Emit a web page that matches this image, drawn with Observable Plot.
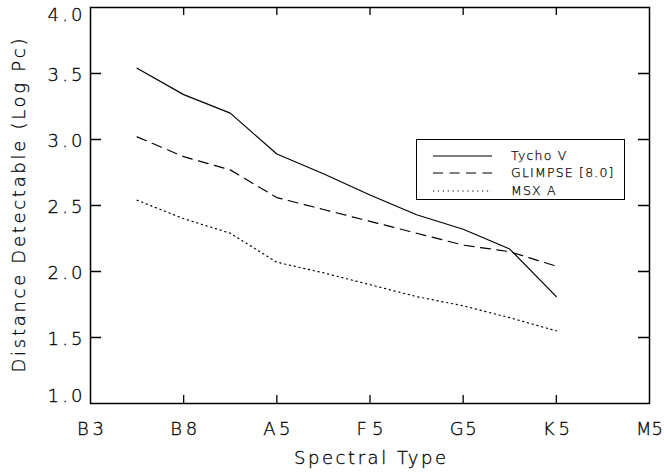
<!DOCTYPE html>
<html>
<head>
<meta charset="utf-8">
<script src="https://cdn.jsdelivr.net/npm/d3@7"></script>
<script src="https://cdn.jsdelivr.net/npm/@observablehq/plot@0.6"></script>
<style>
  html, body { margin: 0; padding: 0; background: #fff; }
  #wrap { position: relative; width: 664px; height: 474px; }
  #wrap svg text { stroke: #000; stroke-width: 0.3px; }
  #legend { position: absolute; left: 416px; top: 139px; width: 209px; height: 61px;
    border: 1px solid #000; background: #fff; box-sizing: border-box;
    font-family: "DejaVu Sans", sans-serif; font-weight: 200; font-size: 12.5px; letter-spacing: 1.2px; color: #000;
    -webkit-text-stroke: 0.25px #000; }
  .row { position: absolute; left: 16px; height: 14px; }
  .row svg { position: absolute; left: 0; top: 0; }
  .row span { position: absolute; left: 78px; top: -1px; white-space: nowrap; line-height: 16px; }
</style>
</head>
<body>
<div id="wrap"></div>
<script>
// ---- data ----
const spectralLabels = ["B3", "B8", "A5", "F5", "G5", "K5", "M5"];
const xTicks = [0, 1, 2, 3, 4, 5, 6];
const yTicks = [1.0, 1.5, 2.0, 2.5, 3.0, 3.5, 4.0];
const xPos = [0.5, 1, 1.5, 2, 2.5, 3, 3.5, 4, 4.5, 5];
const tychoV = [3.54, 3.34, 3.20, 2.89, 2.74, 2.58, 2.43, 2.32, 2.17, 1.81];
const glimpse = [3.02, 2.87, 2.77, 2.56, 2.47, 2.38, 2.29, 2.20, 2.15, 2.04];
const msxA = [2.54, 2.40, 2.29, 2.07, 1.99, 1.90, 1.81, 1.74, 1.65, 1.55];
const seriesNames = ["Tycho V", "GLIMPSE [8.0]", "MSX A"];
const xTitle = "Spectral Type";
const yTitle = "Distance Detectable (Log Pc)";
const dashes = ["none", "10,6.5", "1.2,3.7"];

const seriesValues = [tychoV, glimpse, msxA];
const rows = [];
seriesNames.forEach((name, s) => xPos.forEach((x, i) => rows.push({series: name, x, y: seriesValues[s][i]})));

const W = 664, H = 474, mL = 90, mR = 15, mT = 7, mB = 71;
const innerW = W - mL - mR, innerH = H - mT - mB;
const font = "DejaVu Sans, sans-serif";
const fmt = d3.format(".1f");
const xTickLen = 8, yTickLen = 11;

const chart = Plot.plot({
  width: W, height: H,
  marginLeft: mL, marginRight: mR, marginTop: mT, marginBottom: mB,
  x: {domain: [0, 6]},
  y: {domain: [1, 4]},
  style: {fontFamily: font, fontSize: "18px", background: "#fff", color: "#000", fontWeight: 200},
  marks: [
    // inward ticks on all four sides: full-span rules dashed so only both ends show
    Plot.ruleX(xTicks.slice(1, -1), {x: d => d, y1: 1, y2: 4, stroke: "#000", strokeWidth: 1.3,
      strokeDasharray: `${xTickLen},${innerH - 2 * xTickLen},${xTickLen}`}),
    Plot.ruleY(yTicks.slice(1, -1), {y: d => d, x1: 0, x2: 6, stroke: "#000", strokeWidth: 1.3,
      strokeDasharray: `${yTickLen},${innerW - 2 * yTickLen},${yTickLen}`}),
    // tick labels
    Plot.axisX(xTicks, {anchor: "bottom", tickSize: 0, tickPadding: 19, tickFormat: i => spectralLabels[i], fontSize: 18, label: null}),
    Plot.axisY(yTicks.slice(1, -1), {anchor: "left", tickSize: 0, tickPadding: 8, tickFormat: fmt, dy: 2, fontSize: 18, label: null}),
    Plot.axisY([4.0], {anchor: "left", tickSize: 0, tickPadding: 8, tickFormat: fmt, dy: 8, fontSize: 18, label: null}),
    Plot.axisY([1.0], {anchor: "left", tickSize: 0, tickPadding: 8, tickFormat: fmt, dy: -7, fontSize: 18, label: null}),
    Plot.text([xTitle], {frameAnchor: "bottom", dy: 55, lineAnchor: "middle", fontSize: 18, fill: "#000"}),
    Plot.text([yTitle], {frameAnchor: "left", textAnchor: "middle", dx: -71, rotate: -90, lineAnchor: "middle", fontSize: 18, fill: "#000"}),
    // data lines
    ...seriesNames.map((name, s) => Plot.line(rows.filter(r => r.series === name), {x: "x", y: "y", stroke: "#000", strokeWidth: 1.2, strokeDasharray: dashes[s]})),
    Plot.frame({stroke: "#000", strokeWidth: 1.5})
  ]
});

// stretch texts to the wide stroke-font widths of the reference
const yLabelSet = new Set(yTicks.map(fmt));
chart.querySelectorAll("text").forEach(t => {
  const s = t.textContent.trim();
  let len = null;
  if (s === xTitle) len = 152;
  else if (s === yTitle) len = 334;
  else if (yLabelSet.has(s)) len = 35;
  else if (spectralLabels.includes(s)) len = 27;
  if (len) { t.setAttribute("textLength", len); t.setAttribute("lengthAdjust", "spacing"); }
});

const wrap = document.getElementById("wrap");
wrap.appendChild(chart);

// legend
const legend = document.createElement("div");
legend.id = "legend";
const rowTops = [9, 26, 44];
seriesNames.forEach((name, s) => {
  const r = document.createElement("div");
  r.className = "row";
  r.style.top = rowTops[s] + "px";
  r.innerHTML = `<svg width="60" height="14"><line x1="0" x2="59" y1="7" y2="7" stroke="#000" stroke-width="1.2" stroke-dasharray="${dashes[s] === "none" ? "" : dashes[s]}"/></svg><span>${name}</span>`;
  legend.appendChild(r);
});
wrap.appendChild(legend);
</script>
</body>
</html>
